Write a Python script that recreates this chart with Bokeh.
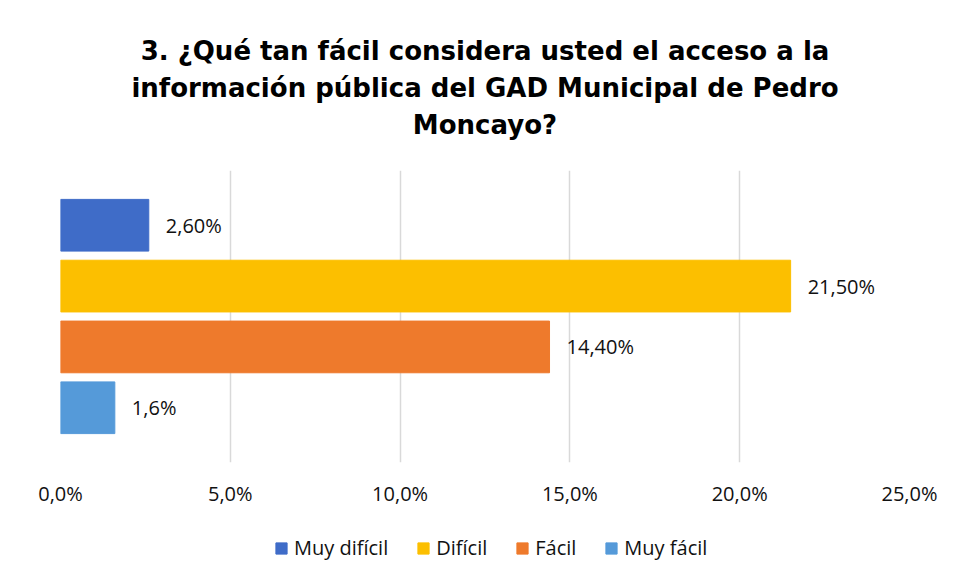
from bokeh.plotting import figure
from bokeh.layouts import column
from bokeh.models import (ColumnDataSource, FactorRange, FixedTicker, LabelSet,
                          Title, Legend, LegendItem)
from bokeh.core.properties import value
from bokeh.embed import file_html
from bokeh.resources import INLINE

# ---- data ----
categories = ["Muy difícil", "Difícil", "Fácil", "Muy fácil"]
values = [2.6, 21.5, 14.4, 1.6]
value_labels = ["2,60%", "21,50%", "14,40%", "1,6%"]
colors = ["#3f6cc8", "#fcbf00", "#ee7a2c", "#559ad9"]
tick_values = [0, 5, 10, 15, 20, 25]
tick_labels = ["0,0%", "5,0%", "10,0%", "15,0%", "20,0%", "25,0%"]
title_lines = ["3. ¿Qué tan fácil considera usted el acceso a la",
               "información pública del GAD Municipal de Pedro",
               "Moncayo?"]

src = ColumnDataSource(dict(cat=categories, val=values, lab=value_labels, col=colors))

p = figure(width=955, height=520, output_backend="svg", toolbar_location=None,
           y_range=FactorRange(*list(reversed(categories)), range_padding=0.2),
           x_range=(0, 25),
           min_border_left=60, min_border_right=46,
           min_border_top=170, min_border_bottom=58)
p.outline_line_color = None
p.background_fill_color = "white"
p.border_fill_color = "white"

r = p.hbar(y="cat", right="val", left=0, height=0.85, color="col", source=src)

labels = LabelSet(x="val", y="cat", text="lab", source=src, x_offset=17,
                  text_baseline="middle", text_font=value("Open Sans"),
                  text_font_size="20px", text_color="#111111")
p.add_layout(labels)

# axes
p.yaxis.visible = False
p.ygrid.visible = False
p.xaxis.ticker = FixedTicker(ticks=tick_values)
p.xaxis.major_label_overrides = {t: s for t, s in zip(tick_values, tick_labels)}
p.xaxis.axis_line_color = None
p.xaxis.major_tick_line_color = None
p.xaxis.minor_tick_line_color = None
p.xaxis.major_label_standoff = 11
p.xaxis.major_label_text_font = "Open Sans"
p.xaxis.major_label_text_font_size = "20px"
p.xaxis.major_label_text_color = "#111111"
p.xgrid.ticker = FixedTicker(ticks=tick_values)
p.xgrid.grid_line_color = "#d9d9d9"
p.xgrid.grid_line_width = 1.5

# spacer between the plot area and the title block
p.add_layout(Title(text=" ", text_font_size="10px", standoff=15), "above")
# title lines (closest line to the plot added first)
for line in reversed(title_lines):
    t = Title(text=line, align="center", text_font="DejaVu Sans",
              text_font_style="bold", text_font_size="26px",
              text_color="#000000", standoff=5)
    p.add_layout(t, "above")

# legend strip below the chart (its bars sit outside the visible range)
lg = figure(width=955, height=53, output_backend="svg", toolbar_location=None,
            y_range=(1000, 2000), x_range=(1000, 2000),
            min_border_left=60, min_border_right=46,
            min_border_top=0, min_border_bottom=0)
lg.axis.visible = False
lg.grid.visible = False
lg.outline_line_color = None
lg.border_fill_color = "white"
r2 = lg.hbar(y="val", right="val", left=0, height=0.85, color="col", source=src)
legend = Legend(items=[LegendItem(label=c, renderers=[r2], index=i)
                       for i, c in enumerate(categories)],
                orientation="horizontal", location=(214, 12),
                label_text_font="Open Sans", label_text_font_size="20px",
                label_text_color="#111111",
                glyph_width=14, glyph_height=14, spacing=28, label_standoff=6,
                border_line_color=None, background_fill_alpha=0)
lg.add_layout(legend)

layout = column(p, lg, spacing=0)
open("out.html", "w").write(file_html(layout, INLINE))
